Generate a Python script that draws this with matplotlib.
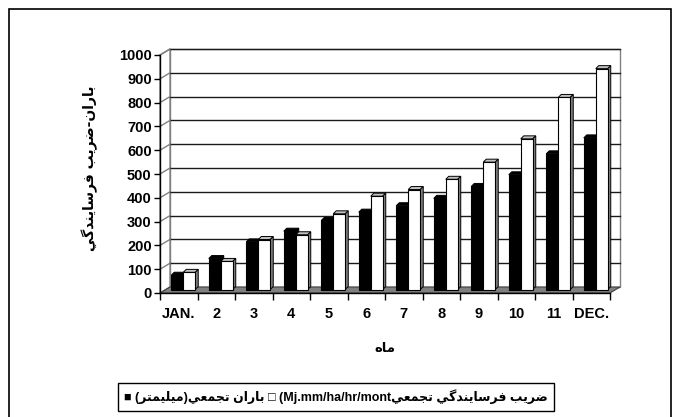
import matplotlib
matplotlib.use("Agg")
import matplotlib.pyplot as plt
from matplotlib.patches import Polygon, Rectangle
import numpy as np

# ---------------- data ----------------
months = ["JAN.", "2", "3", "4", "5", "6", "7", "8", "9", "10", "11", "DEC."]
rain_cum = [60, 130, 200, 245, 290, 325, 352, 383, 433, 482, 570, 637]        # black
erosivity_cum = [72, 118, 210, 230, 318, 392, 420, 463, 535, 633, 807, 928]   # white
yticks = list(range(0, 1001, 100))

ylabel_text = "باران-ضريب فرسايندگي"
xlabel_text = "ماه"
legend_rain = "باران تجمعي(ميليمتر)"
legend_ero_ar = "ضريب فرسايندگي تجمعي"
legend_ero_unit = "(Mj.mm/ha/hr/mont"

# ------------- minimal Arabic shaping (presentation forms) -------------
FORMS = {
    'ا': ('\uFE8D', '\uFE8E', None, None),
    'ب': ('\uFE8F', '\uFE90', '\uFE91', '\uFE92'),
    'ت': ('\uFE95', '\uFE96', '\uFE97', '\uFE98'),
    'ج': ('\uFE9D', '\uFE9E', '\uFE9F', '\uFEA0'),
    'د': ('\uFEA9', '\uFEAA', None, None),
    'ر': ('\uFEAD', '\uFEAE', None, None),
    'س': ('\uFEB1', '\uFEB2', '\uFEB3', '\uFEB4'),
    'ض': ('\uFEBD', '\uFEBE', '\uFEBF', '\uFEC0'),
    'ع': ('\uFEC9', '\uFECA', '\uFECB', '\uFECC'),
    'ف': ('\uFED1', '\uFED2', '\uFED3', '\uFED4'),
    'ل': ('\uFEDD', '\uFEDE', '\uFEDF', '\uFEE0'),
    'م': ('\uFEE1', '\uFEE2', '\uFEE3', '\uFEE4'),
    'ن': ('\uFEE5', '\uFEE6', '\uFEE7', '\uFEE8'),
    'ه': ('\uFEE9', '\uFEEA', '\uFEEB', '\uFEEC'),
    'ي': ('\uFEF1', '\uFEF2', '\uFEF3', '\uFEF4'),
    'گ': ('\uFB92', '\uFB93', '\uFB94', '\uFB95'),
}


def shape(s):
    out = []
    for i, c in enumerate(s):
        if c not in FORMS:
            out.append(c)
            continue
        f = FORMS[c]
        prev = s[i - 1] if i > 0 else ''
        nxt = s[i + 1] if i + 1 < len(s) else ''
        jp = prev in FORMS and FORMS[prev][2] is not None
        jn = f[2] is not None and nxt in FORMS
        if jp and jn:
            out.append(f[3])
        elif jp:
            out.append(f[1])
        elif jn:
            out.append(f[2])
        else:
            out.append(f[0])
    return ''.join(out)


def visual(s):
    r = shape(s)[::-1]
    return r.translate(str.maketrans({'(': ')', ')': '('}))


# ---------------- figure ----------------
W, H = 677, 417
fig = plt.figure(figsize=(W / 100, H / 100), dpi=100)
fig.patch.set_facecolor("white")

# outer frame
fig.add_artist(Rectangle((9 / W, -0.05), (671 - 9) / W, (H - 9) / H + 0.05,
                         transform=fig.transFigure, fill=False, ec="black", lw=1.2))

x0p, x1p, ytop, ybot = 160, 610, 55, 293
ax = fig.add_axes([x0p / W, (H - ybot) / H, (x1p - x0p) / W, (ybot - ytop) / H])
ax.set_xlim(-0.5, len(months) - 0.5)
ax.set_ylim(0, 1000)
ax.set_facecolor("none")

pxx = (x1p - x0p) / len(months)      # pixels per category
pxy = (ybot - ytop) / 1000.0          # pixels per unit value
dxb, dyb = 10 / pxx, 6 / pxy          # back wall depth
sx, sy = 4.5 / pxx, 3.5 / pxy         # bar row depth position
ddx, ddy = 3 / pxx, 3 / pxy           # bar depth
bw = 12 / pxx

L, R = -0.5, len(months) - 0.5
# back wall
ax.add_patch(Polygon([(L + dxb, dyb), (R + dxb, dyb), (R + dxb, 1000 + dyb), (L + dxb, 1000 + dyb)],
                     closed=True, fc="white", ec="#808080", lw=1.0, clip_on=False, zorder=0))
# left wall
ax.add_patch(Polygon([(L, 0), (L, 1000), (L + dxb, 1000 + dyb), (L + dxb, dyb)],
                     closed=True, fc="white", ec="#808080", lw=1.0, clip_on=False, zorder=0))
# gridlines
for v in yticks[1:]:
    ax.plot([L + dxb, R + dxb], [v + dyb, v + dyb], color="#1a1a1a", lw=1.0, clip_on=False, zorder=1)
    ax.plot([L, L + dxb], [v, v + dyb], color="#808080", lw=1.0, clip_on=False, zorder=1)
# floor
ax.add_patch(Polygon([(L, 0), (R, 0), (R + dxb, dyb), (L + dxb, dyb)],
                     closed=True, fc="#808080", ec="#404040", lw=0.8, clip_on=False, zorder=2))

x = np.arange(len(months))
series = [
    (rain_cum, x + sx - bw, "black", "black", "black"),
    (erosivity_cum, x + sx, "white", "#c0c0c0", "#808080"),
]
for vals, lefts, fc, topc, sidec in series:
    ax.bar(lefts, vals, width=bw, bottom=sy, align="edge", color=fc, edgecolor="black",
           linewidth=0.8, zorder=5, clip_on=False)
    for xl, v in zip(lefts, vals):
        xr = xl + bw
        t = v + sy
        ax.add_patch(Polygon([(xl, t), (xr, t), (xr + ddx, t + ddy), (xl + ddx, t + ddy)],
                             closed=True, fc=topc, ec="black", lw=0.7, zorder=4, clip_on=False))
        ax.add_patch(Polygon([(xr, sy), (xr, t), (xr + ddx, t + ddy), (xr + ddx, sy + ddy)],
                             closed=True, fc=sidec, ec="black", lw=0.7, zorder=4, clip_on=False))

# axes / ticks
for s in ["top", "right"]:
    ax.spines[s].set_visible(False)
for s in ["left", "bottom"]:
    ax.spines[s].set_color("black")
    ax.spines[s].set_linewidth(1.0)
    ax.spines[s].set_zorder(6)

tick_font = dict(family=["Liberation Sans", "DejaVu Sans"], weight="bold", size=10.5)
ax.set_yticks(yticks)
ax.set_yticklabels([str(v) for v in yticks], **tick_font)
ax.tick_params(axis="y", direction="out", length=4, width=1, pad=2)
ax.set_xticks(x)
ax.set_xticklabels(months, **tick_font)
ax.tick_params(axis="x", which="major", length=0, pad=10)
ax.set_xticks(np.arange(-0.5, len(months), 1.0), minor=True)
ax.tick_params(axis="x", which="minor", direction="out", length=5, width=1)

ar_font = dict(family=["DejaVu Sans"], weight="bold")
fig.text(385 / W, 1 - 348 / H, visual(xlabel_text), ha="center", va="center", size=9.5, **ar_font)
fig.text(90 / W, 1 - 168 / H, visual(ylabel_text), ha="center", va="center", size=10,
         rotation=90, **ar_font)

legend_str = "■ " + visual(legend_rain) + " □ " + legend_ero_unit + visual(legend_ero_ar)
fig.text(336 / W, 1 - 397 / H, legend_str, ha="center", va="center", size=9,
         family=["Liberation Sans", "DejaVu Sans"], weight="bold",
         bbox=dict(boxstyle="square,pad=0.5", fc="white", ec="black", lw=1.0))

fig.savefig("out.png", dpi=100)
